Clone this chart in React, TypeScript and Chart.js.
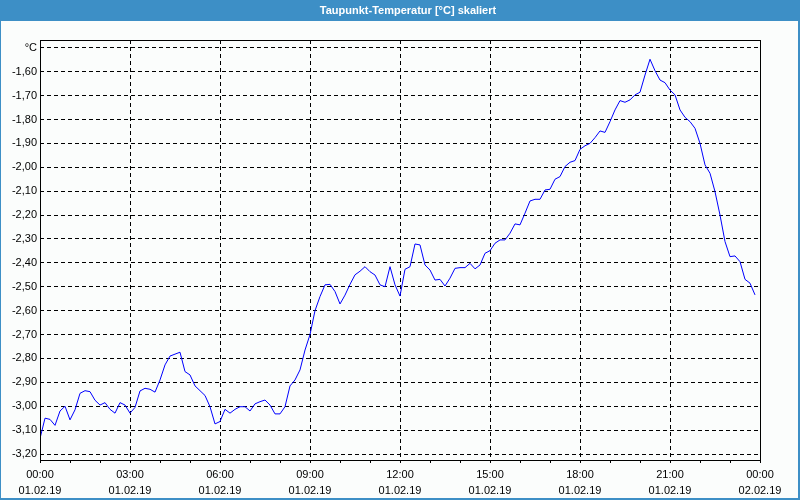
import React, { useEffect, useRef } from "react";
import { Chart, registerables } from "chart.js";

Chart.register(...registerables);

// ---- data ----
const chartTitle = "Taupunkt-Temperatur [°C] skaliert";
const sampleMinutes = 10; // one reading every 10 minutes, starting 00:00

const dewPoint = [
  -3.135, -3.05, -3.055, -3.08, -3.02, -3.0, -3.057, -3.015, -2.946, -2.935,
  -2.939, -2.975, -2.995, -2.985, -3.013, -3.029, -2.985, -2.995, -3.029, -3.005,
  -2.936, -2.925, -2.929, -2.941, -2.89, -2.827, -2.79, -2.782, -2.774, -2.855,
  -2.869, -2.915, -2.935, -2.955, -3.002, -3.074, -3.064, -3.013, -3.029, -3.013,
  -3.002, -3.002, -3.02, -2.99, -2.981, -2.974, -2.995, -3.032, -3.032, -3.002,
  -2.915, -2.89, -2.848, -2.765, -2.7, -2.6, -2.541, -2.492, -2.49, -2.52,
  -2.572, -2.535, -2.49, -2.45, -2.435, -2.416, -2.437, -2.451, -2.492, -2.5,
  -2.416, -2.492, -2.539, -2.427, -2.416, -2.321, -2.325, -2.409, -2.43, -2.472,
  -2.469, -2.497, -2.464, -2.423, -2.42, -2.42, -2.402, -2.425, -2.409, -2.36,
  -2.349, -2.318, -2.304, -2.304, -2.276, -2.237, -2.241, -2.192, -2.141, -2.134,
  -2.134, -2.095, -2.092, -2.05, -2.039, -1.997, -1.979, -1.972, -1.925, -1.91,
  -1.9, -1.876, -1.848, -1.854, -1.809, -1.76, -1.721, -1.728, -1.718, -1.697,
  -1.686, -1.614, -1.548, -1.596, -1.635, -1.646, -1.677, -1.697, -1.76, -1.791,
  -1.809, -1.837, -1.9, -1.99, -2.025, -2.102, -2.2, -2.311, -2.374, -2.371,
  -2.395, -2.469, -2.485, -2.534,
];

const xMajorHours = [0, 3, 6, 9, 12, 15, 18, 21, 24];
const xTimeLabels = ["00:00", "03:00", "06:00", "09:00", "12:00", "15:00", "18:00", "21:00", "00:00"];
const xDateLabels = ["01.02.19", "01.02.19", "01.02.19", "01.02.19", "01.02.19", "01.02.19", "01.02.19", "01.02.19", "02.02.19"];
const xMinorHours = [0, 1, 2, 3, 4, 5, 6, 7, 8, 9, 10, 11, 12, 13, 14, 15, 16, 17, 18, 19, 20, 21, 22, 23, 24];

const yTickValues = [-3.2, -3.1, -3.0, -2.9, -2.8, -2.7, -2.6, -2.5, -2.4, -2.3, -2.2, -2.1, -2.0, -1.9, -1.8, -1.7, -1.6, -1.5];
const yTickLabels = ["-3,20", "-3,10", "-3,00", "-2,90", "-2,80", "-2,70", "-2,60", "-2,50", "-2,40", "-2,30", "-2,20", "-2,10", "-2,00", "-1,90", "-1,80", "-1,70", "-1,60", "°C"];
const yMin = -3.225;
const yMax = -1.4674;

const FAMILY = "'Liberation Sans Narrow', 'Liberation Sans', Arial, sans-serif";
const TICK_FONT = { family: FAMILY, size: 11, lineHeight: 1.45 };

const framePlugin = {
  id: "frame",
  beforeDraw(chart: any) {
    const { ctx, width, height } = chart;
    ctx.save();
    ctx.fillStyle = "#fbfdfc";
    ctx.fillRect(0, 0, width, height);
    ctx.fillStyle = "#3d8fc6";
    ctx.fillRect(0, 0, width, 21);
    ctx.fillRect(0, 0, 1, height);
    ctx.fillRect(width - 2, 0, 2, height);
    ctx.fillRect(0, height - 2, width, 2);
    ctx.fillStyle = "#ffffff";
    ctx.font = "bold 11px 'Liberation Sans', Arial, sans-serif";
    ctx.textAlign = "center";
    ctx.textBaseline = "middle";
    ctx.fillText(chartTitle, 408, 10.5);
    ctx.restore();
  },
  afterDraw(chart: any) {
    const { ctx, chartArea } = chart;
    ctx.save();
    ctx.strokeStyle = "#000";
    ctx.lineWidth = 1;
    ctx.setLineDash([]);
    ctx.strokeRect(
      Math.round(chartArea.left) + 0.5,
      Math.round(chartArea.top) + 0.5,
      Math.round(chartArea.right - chartArea.left),
      Math.round(chartArea.bottom - chartArea.top)
    );
    ctx.restore();
  },
};

export default function App() {
  const ref = useRef<HTMLCanvasElement | null>(null);

  useEffect(() => {
    document.body.style.margin = "0";
    const canvas = ref.current;
    if (!canvas) return;
    const points = dewPoint.map((v, i) => ({ x: (i * sampleMinutes) / 60, y: v }));

    const chart = new Chart(canvas, {
      type: "line",
      data: {
        datasets: [
          {
            data: points,
            borderColor: "#0000ff",
            borderWidth: 1,
            pointRadius: 0,
            tension: 0,
            fill: false,
          },
        ],
      },
      options: {
        animation: false,
        responsive: false,
        devicePixelRatio: 1,
        events: [],
        layout: { padding: { top: 40, right: 40, left: 0, bottom: 0 } },
        plugins: { legend: { display: false }, tooltip: { enabled: false }, title: { display: false } },
        scales: {
          x: {
            type: "linear",
            min: 0,
            max: 24,
            afterBuildTicks: (scale: any) => {
              scale.ticks = xMinorHours.map((h) => ({ value: h }));
            },
            afterFit: (scale: any) => {
              scale.height = 40;
            },
            ticks: {
              autoSkip: false,
              maxRotation: 0,
              minRotation: 0,
              padding: 4,
              color: "#000",
              font: TICK_FONT,
              callback: (value: any) => {
                const k = xMajorHours.indexOf(Number(value));
                return k >= 0 ? [xTimeLabels[k], xDateLabels[k]] : "";
              },
            },
            grid: {
              drawOnChartArea: true,
              drawTicks: true,
              tickLength: 3,
              lineWidth: 1,
              color: (ctx: any) =>
                ctx.tick && xMajorHours.indexOf(ctx.tick.value) >= 0 ? "#000" : "rgba(0,0,0,0)",
              tickColor: "#000",
              tickBorderDash: [],
            },
            border: { display: false, dash: [4, 3] },
          },
          y: {
            type: "linear",
            min: yMin,
            max: yMax,
            afterBuildTicks: (scale: any) => {
              scale.ticks = yTickValues.map((v) => ({ value: v }));
            },
            afterFit: (scale: any) => {
              scale.width = 40;
            },
            ticks: {
              autoSkip: false,
              padding: 3,
              color: "#000",
              font: { family: FAMILY, size: 11 },
              callback: (_v: any, i: number) => yTickLabels[i],
            },
            grid: {
              drawOnChartArea: true,
              drawTicks: false,
              lineWidth: 1,
              color: "#000",
            },
            border: { display: false, dash: [4, 3] },
          },
        },
      },
      plugins: [framePlugin],
    });
    return () => chart.destroy();
  }, []);

  return (
    <div style={{ position: "fixed", left: 0, top: 0, width: 800, height: 500 }}>
      <canvas ref={ref} width={800} height={500} style={{ display: "block" }} />
    </div>
  );
}
